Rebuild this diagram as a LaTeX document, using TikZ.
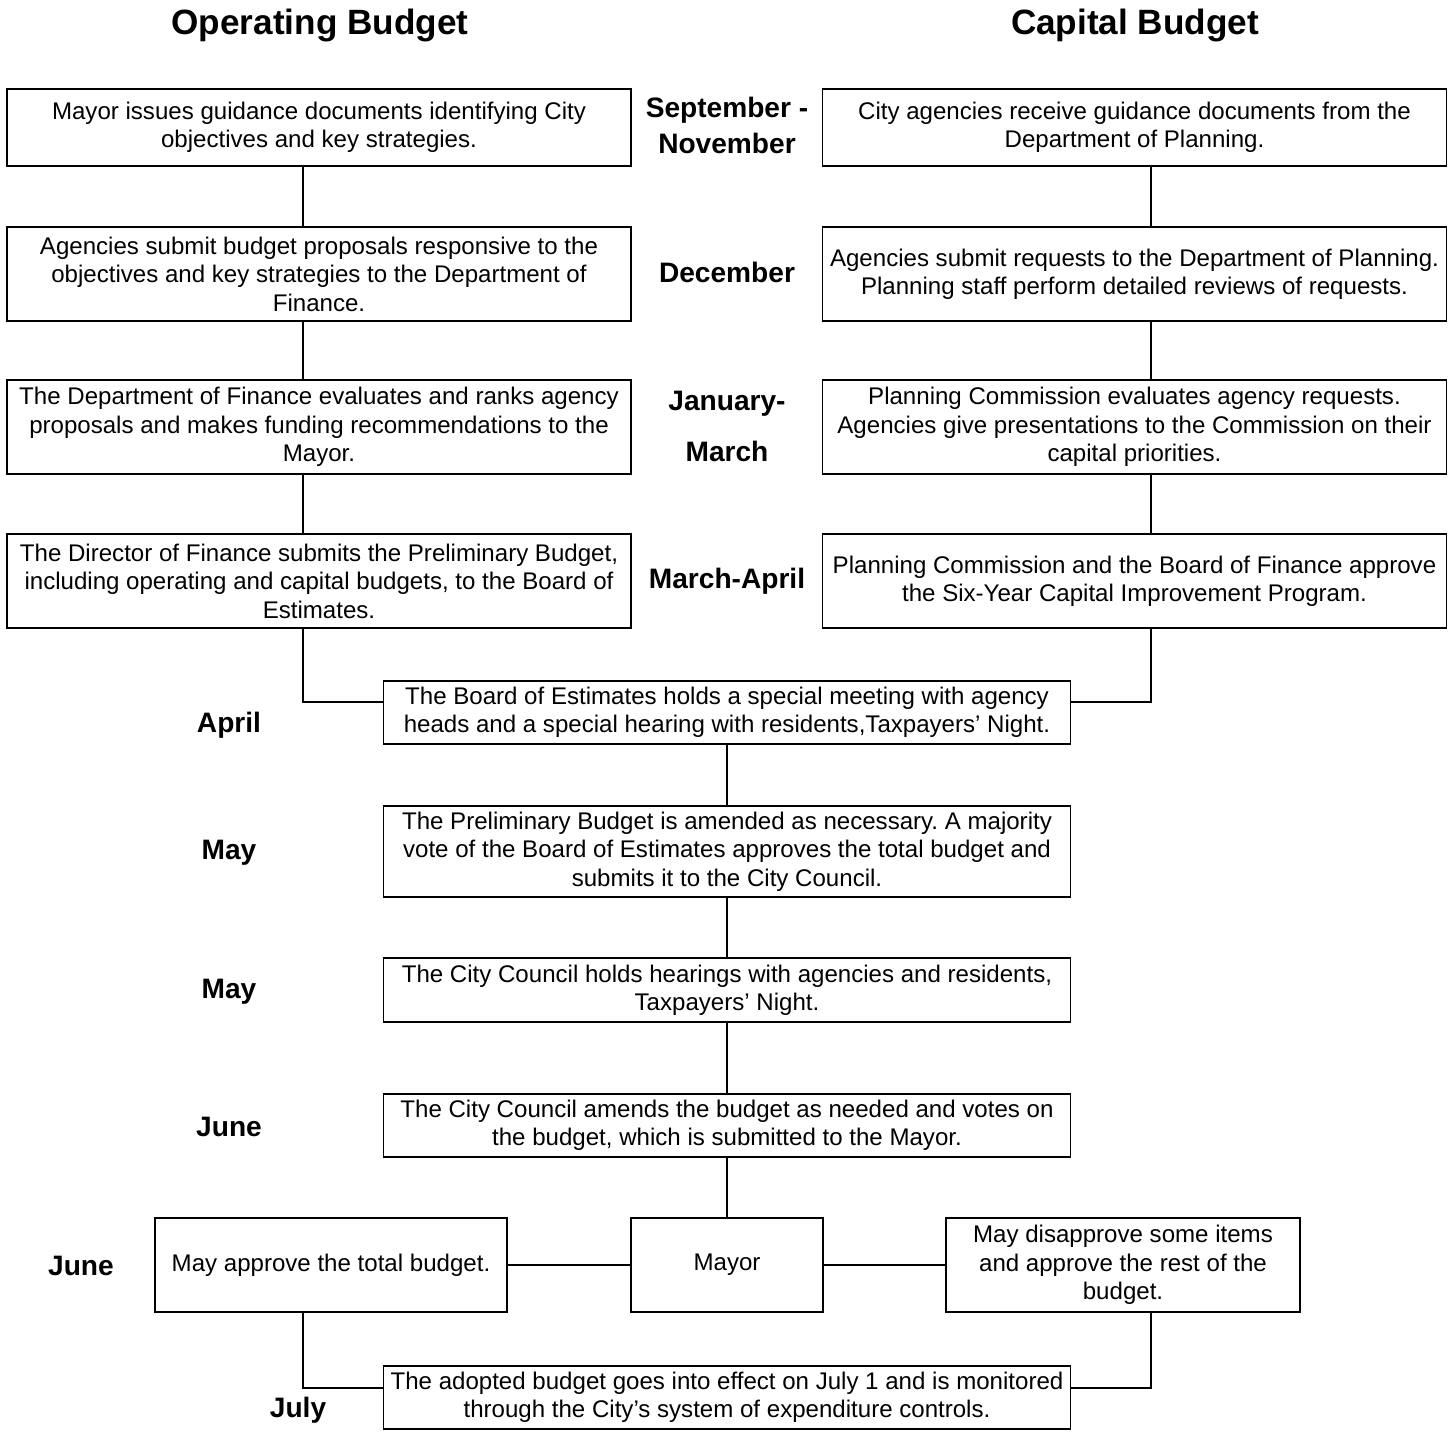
\documentclass[tikz,border=0pt]{standalone}
\usepackage{fontspec}
\setmainfont{Liberation Sans}
\usepackage{xcolor}
\usepackage{tikz}
\usetikzlibrary{calc}
\frenchspacing

\tikzset{
  stepbox/.style={draw, line width=1.1pt, align=center, inner sep=0pt, font=\fontsize{13.7}{16.2}\selectfont},
  month/.style={font=\fontsize{16}{20}\selectfont\bfseries, align=center},
  colhead/.style={font=\fontsize{20}{24}\selectfont\bfseries},
  link/.style={line width=1.1pt}
}

\begin{document}
\begin{tikzpicture}
  \useasboundingbox (0,0) rectangle (29.06,-28.62);
  \node[colhead] (ophead) at (6.4,-0.5) {Operating Budget};
  \node[colhead] (caphead) at (22.7,-0.5) {Capital Budget};

  \node[stepbox, minimum width=12.48cm, minimum height=1.54cm] (op1) at (6.38,-2.55) {Mayor issues guidance documents identifying City\\objectives and key strategies.};
  \node[stepbox, minimum width=12.48cm, minimum height=1.88cm] (op2) at (6.38,-5.48) {Agencies submit budget proposals responsive to the\\objectives and key strategies to the Department of\\Finance.};
  \node[stepbox, minimum width=12.48cm, minimum height=1.88cm] (op3) at (6.38,-8.54) {The Department of Finance evaluates and ranks agency\\proposals and makes funding recommendations to the\\Mayor.};
  \node[stepbox, minimum width=12.48cm, minimum height=1.88cm] (op4) at (6.38,-11.62) {The Director of Finance submits the Preliminary Budget,\\including operating and capital budgets, to the Board of\\Estimates.};

  \node[stepbox, minimum width=12.48cm, minimum height=1.54cm] (cap1) at (22.69,-2.55) {City agencies receive guidance documents from the\\Department of Planning.};
  \node[stepbox, minimum width=12.48cm, minimum height=1.88cm] (cap2) at (22.69,-5.48) {Agencies submit requests to the Department of Planning.\\Planning staff perform detailed reviews of requests.};
  \node[stepbox, minimum width=12.48cm, minimum height=1.88cm] (cap3) at (22.69,-8.54) {Planning Commission evaluates agency requests.\\Agencies give presentations to the Commission on their\\capital priorities.};
  \node[stepbox, minimum width=12.48cm, minimum height=1.88cm] (cap4) at (22.69,-11.62) {Planning Commission and the Board of Finance approve\\the Six-Year Capital Improvement Program.};

  \node[month] (msep) at (14.54,-2.51) {September -\\November};
  \node[month] (mdec) at (14.54,-5.44) {December};
  \node[month, font=\fontsize{16}{29}\selectfont\bfseries] (mjan) at (14.54,-8.53) {January-\\March};
  \node[month] (mmar) at (14.54,-11.62) {March-April};

  \node[stepbox, minimum width=13.74cm, minimum height=1.26cm] (board) at (14.54,-14.25) {The Board of Estimates holds a special meeting with agency\\heads and a special hearing with residents,Taxpayers’ Night.};
  \node[stepbox, minimum width=13.74cm, minimum height=1.82cm] (amend) at (14.54,-17.03) {The Preliminary Budget is amended as necessary. A majority\\vote of the Board of Estimates approves the total budget and\\submits it to the City Council.};
  \node[stepbox, minimum width=13.74cm, minimum height=1.28cm] (hear) at (14.54,-19.8) {The City Council holds hearings with agencies and residents,\\Taxpayers’ Night.};
  \node[stepbox, minimum width=13.74cm, minimum height=1.26cm] (vote) at (14.54,-22.51) {The City Council amends the budget as needed and votes on\\the budget, which is submitted to the Mayor.};

  \node[stepbox, minimum width=7.04cm, minimum height=1.88cm] (approve) at (6.62,-25.3) {May approve the total budget.};
  \node[stepbox, minimum width=3.84cm, minimum height=1.88cm] (mayor) at (14.54,-25.3) {Mayor};
  \node[stepbox, minimum width=7.08cm, minimum height=1.88cm] (veto) at (22.46,-25.3) {May disapprove some items\\and approve the rest of the\\budget.};
  \node[stepbox, minimum width=13.74cm, minimum height=1.26cm] (adopt) at (14.54,-27.95) {The adopted budget goes into effect on July 1 and is monitored\\through the City’s system of expenditure controls.};

  \node[month] (mapr) at (4.58,-14.5) {April};
  \node[month] (mmay1) at (4.58,-17.05) {May};
  \node[month] (mmay2) at (4.58,-19.83) {May};
  \node[month] (mjun1) at (4.58,-22.54) {June};
  \node[month] (mjun2) at (1.62,-25.32) {June};
  \node[month] (mjul) at (5.96,-28.2) {July};

  \coordinate (lx) at (6.06,0);
  \coordinate (rx) at (23.02,0);
  \draw[link] (op1.south -| lx) -- (op2.north -| lx);
  \draw[link] (op2.south -| lx) -- (op3.north -| lx);
  \draw[link] (op3.south -| lx) -- (op4.north -| lx);
  \draw[link] (op4.south -| lx) |- ([yshift=0.21cm]board.west);
  \draw[link] (cap1.south -| rx) -- (cap2.north -| rx);
  \draw[link] (cap2.south -| rx) -- (cap3.north -| rx);
  \draw[link] (cap3.south -| rx) -- (cap4.north -| rx);
  \draw[link] (cap4.south -| rx) |- ([yshift=0.21cm]board.east);
  \draw[link] (board) -- (amend);
  \draw[link] (amend) -- (hear);
  \draw[link] (hear) -- (vote);
  \draw[link] (vote) -- (mayor);
  \draw[link] (mayor) -- (approve);
  \draw[link] (mayor) -- (veto);
  \draw[link] (approve.south -| lx) |- ([yshift=0.19cm]adopt.west);
  \draw[link] (veto.south -| rx) |- ([yshift=0.19cm]adopt.east);
\end{tikzpicture}
\end{document}
